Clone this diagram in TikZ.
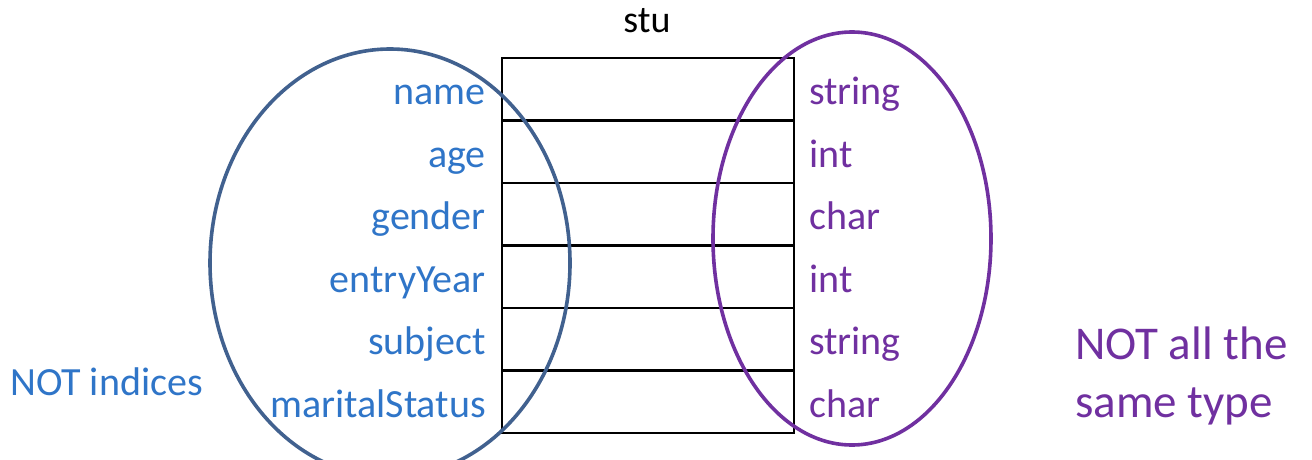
\documentclass[tikz,border=0pt]{standalone}
\usepackage{fontspec}
\setmainfont{Carlito}
\definecolor{lblue}{HTML}{2F75C8}
\definecolor{eblue}{HTML}{41618F}
\definecolor{purp}{HTML}{7030A0}
\begin{document}
\begin{tikzpicture}[x=1pt,y=-1pt,
  cell/.style={draw=black,line width=2.6pt,minimum width=292pt,minimum height=62.5pt,inner sep=0pt,outer sep=0pt,anchor=north west},
  fname/.style={text=lblue,anchor=base east,inner sep=0pt,font=\fontsize{40}{48}\selectfont},
  ftype/.style={text=purp,anchor=base west,inner sep=0pt,font=\fontsize{40}{48}\selectfont},
  note/.style={inner sep=0pt,anchor=base west},
  ell/.style={line width=3.6pt}]
\useasboundingbox (0,0) rectangle (1312,460);
\clip (0,0) rectangle (1312,460);
\fill[white] (0,0) rectangle (1312,460);
% table rows
\foreach \i/\y in {1/58,2/120.5,3/183,4/245.5,5/308,6/370.5}{
  \node[cell] (r\i) at (502,\y) {};
}
\node[inner sep=0pt,anchor=base,font=\fontsize{38}{46}\selectfont] (stu) at (647,33) {stu};
% ellipses
\draw[ell,eblue] (390,263) ellipse [x radius=180pt, y radius=214pt];
\draw[ell,purp] (852,238.5) ellipse [x radius=139pt, y radius=206.5pt];
% field names
\foreach \i/\t in {1/name,2/age,3/gender,4/entryYear,5/subject,6/maritalStatus}{
  \node[fname] (n\i) at ([xshift=-16pt,yshift=-15.5pt]r\i.west) {\t};
}
\foreach \i/\t in {1/string,2/int,3/char,4/int,5/string,6/char}{
  \node[ftype] (t\i) at ([xshift=15pt,yshift=-15.5pt]r\i.east) {\t};
}
\node[note,text=lblue,font=\fontsize{40}{48}\selectfont] (ni) at (10,395) {NOT indices};
\node[note,text=purp,font=\fontsize{47}{58}\selectfont] (nt1) at (1075,359) {NOT all the};
\node[note,text=purp,font=\fontsize{47}{58}\selectfont] (nt2) at (1075,417) {same type};
\end{tikzpicture}
\end{document}
